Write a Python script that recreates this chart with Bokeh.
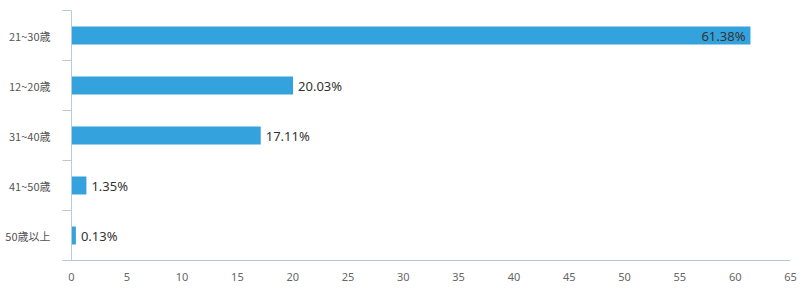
from bokeh.plotting import figure
from bokeh.models import Range1d, FixedTicker, ColumnDataSource, Span
from bokeh.embed import file_html
from bokeh.resources import INLINE
from bokeh.core.properties import value

categories = ["21~30歳", "12~20歳", "31~40歳", "41~50歳", "50歳以上"]
values = [61.38, 20.03, 17.11, 1.35, 0.13]
x_ticks = list(range(0, 70, 5))

n = len(categories)
ypos = [n - i - 0.5 for i in range(n)]
labels = ["%.2f%%" % v for v in values]
inside = [v > 50 for v in values]
min_bar = 0.4  # minimum visible bar length (like ECharts barMinHeight)
ends = [max(v, min_bar) for v in values]

bar_color = "#34a2dc"
axis_color = "#b8c9d6"

p = figure(width=800, height=300, output_backend="svg", toolbar_location=None,
           x_range=Range1d(-0.81, 65.0), y_range=Range1d(0, n),
           min_border_left=62, min_border_right=10, min_border_top=10, min_border_bottom=40)
p.outline_line_color = None
p.grid.grid_line_color = None
p.background_fill_color = "white"
p.border_fill_color = "white"

src = ColumnDataSource(dict(y=ypos, v=ends, lab=labels))
p.hbar(y="y", right="v", left=0, height=0.36, source=src, fill_color=bar_color, line_color=None)

out_src = ColumnDataSource(dict(y=[y for y, i in zip(ypos, inside) if not i],
                                v=[v for v, i in zip(ends, inside) if not i],
                                lab=[l for l, i in zip(labels, inside) if not i]))
in_src = ColumnDataSource(dict(y=[y for y, i in zip(ypos, inside) if i],
                               v=[v for v, i in zip(ends, inside) if i],
                               lab=[l for l, i in zip(labels, inside) if i]))
p.text(x="v", y="y", text="lab", source=out_src, x_offset=5, text_align="left",
       text_baseline="middle", text_font=value("Noto Sans"), text_font_size="13px",
       text_color="#333333")
p.text(x="v", y="y", text="lab", source=in_src, x_offset=-5, text_align="right",
       text_baseline="middle", text_font=value("Noto Sans"), text_font_size="13px",
       text_color="#333333")

p.add_layout(Span(location=0, dimension="height", line_color=axis_color, line_width=1))

ya = p.yaxis[0]
ya.ticker = FixedTicker(ticks=ypos, minor_ticks=list(range(0, n + 1)))
ya.major_label_overrides = {y: c for y, c in zip(ypos, categories)}
ya.axis_line_color = None
ya.major_tick_line_color = None
ya.minor_tick_line_color = axis_color
ya.minor_tick_in = 9
ya.minor_tick_out = 0
ya.major_label_standoff = 6
ya.major_label_text_font = "Noto Sans CJK JP"
ya.major_label_text_font_size = "11px"
ya.major_label_text_color = "#555555"

xa = p.xaxis[0]
xa.ticker = FixedTicker(ticks=x_ticks)
xa.axis_line_color = axis_color
xa.major_tick_line_color = None
xa.minor_tick_line_color = None
xa.major_label_standoff = 6
xa.major_label_text_font = "Noto Sans"
xa.major_label_text_font_size = "11px"
xa.major_label_text_color = "#666666"

open("out.html", "w").write(file_html(p, INLINE))
